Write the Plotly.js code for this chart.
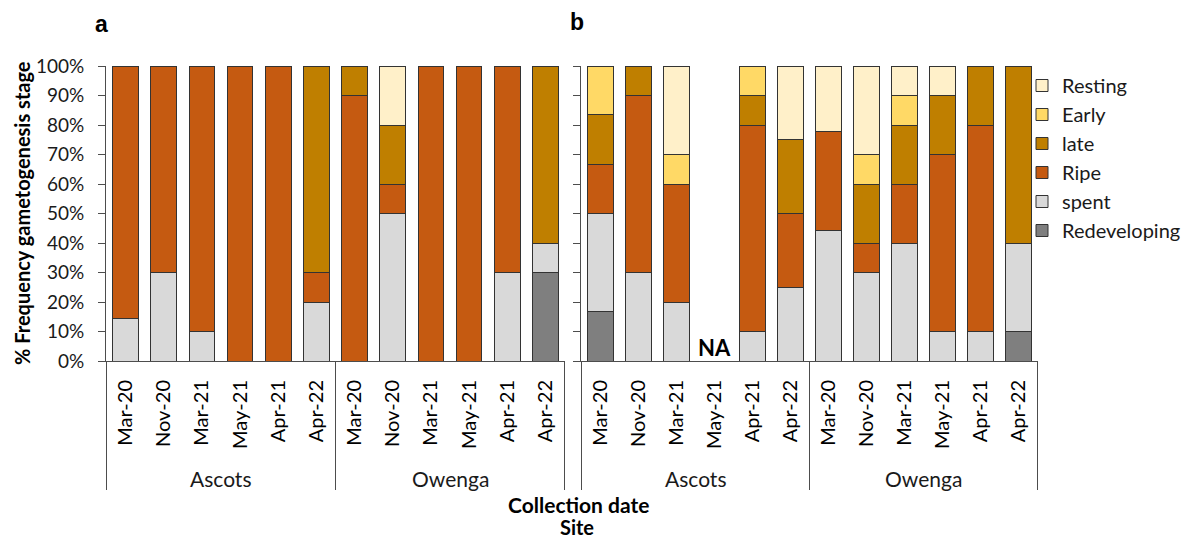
<!DOCTYPE html>
<html>
<head>
<meta charset="utf-8">
<script src="https://cdn.plot.ly/plotly-3.0.1.min.js"></script>
<style>html,body{margin:0;padding:0;background:#fff;}#chart{width:1190px;height:541px;}</style>
</head>
<body>
<div id="chart"></div>
<script>
// Categories
const sites = ["Ascots","Ascots","Ascots","Ascots","Ascots","Ascots","Owenga","Owenga","Owenga","Owenga","Owenga","Owenga"];
const dates = ["Mar-20","Nov-20","Mar-21","May-21","Apr-21","Apr-22","Mar-20","Nov-20","Mar-21","May-21","Apr-21","Apr-22"];
const stages = ["Redeveloping","spent","Ripe","late","Early","Resting"];
const stageColors = ["#7f7f7f","#d9d9d9","#c55a11","#bf7f00","#ffd966","#fff0c9"];

// Panel a (% per stage)
const aRedeveloping = [0,0,0,0,0,0, 0,0,0,0,0,30];
const aSpent        = [14.3,30,10,0,0,20, 0,50,0,0,30,10];
const aRipe         = [85.7,70,90,100,100,10, 90,10,100,100,70,0];
const aLate         = [0,0,0,0,0,70, 10,20,0,0,0,60];
const aEarly        = [0,0,0,0,0,0, 0,0,0,0,0,0];
const aResting      = [0,0,0,0,0,0, 0,20,0,0,0,0];

// Panel b (% per stage); Ascots May-21 = NA
const bRedeveloping = [16.7,0,0,null,0,0, 0,0,0,0,0,10];
const bSpent        = [33.3,30,20,null,10,25, 44.4,30,40,10,10,30];
const bRipe         = [16.7,60,40,null,70,25, 33.3,10,20,60,70,0];
const bLate         = [16.7,10,0,null,10,25, 0,20,20,20,20,60];
const bEarly        = [16.6,0,10,null,10,0, 0,10,10,0,0,0];
const bResting      = [0,0,30,null,0,25, 22.3,30,10,10,0,0];

const catIds = sites.map((s,i)=> s + " " + dates[i]);
const groupNames = ["Ascots","Owenga"];

const FONT = "Lato, 'Open Sans', sans-serif";
const aSeries = [aRedeveloping,aSpent,aRipe,aLate,aEarly,aResting];
const bSeries = [bRedeveloping,bSpent,bRipe,bLate,bEarly,bResting];

const traces = [];
stages.forEach((st,k)=>{
  traces.push({type:"bar", name:st, x:catIds, y:aSeries[k], xaxis:"x", yaxis:"y",
    marker:{color:stageColors[k], line:{color:"#333333", width:1}}, showlegend:false, legendgroup:st, hoverinfo:"name+y"});
});
stages.forEach((st,k)=>{
  traces.push({type:"bar", name:st, x:catIds, y:bSeries[k], xaxis:"x2", yaxis:"y2",
    marker:{color:stageColors[k], line:{color:"#333333", width:1}}, showlegend:true, legendgroup:st, hoverinfo:"name+y"});
});

const W = 1190, H = 541;
const yTop = 66, yBot = 361;
const pY = v => (H - v)/H;
const xa = [106/W, 565/W], xb = [581/W, 1038/W];

const xAxisBase = {
  type:"category", categoryorder:"array", categoryarray:catIds,
  tickmode:"array", tickvals:catIds, ticktext:dates, tickangle:-90,
  tickfont:{family:FONT, size:20, color:"#000"}, ticklabelstandoff:10,
  showline:true, linecolor:"#4d4d4d", linewidth:1, ticks:"", showgrid:false,
  zeroline:false, automargin:false, fixedrange:true
};
const yAxisBase = {
  range:[0,100], dtick:10, tick0:0, ticks:"outside", ticklen:7, tickcolor:"#4d4d4d",
  showline:true, linecolor:"#4d4d4d", linewidth:1, showgrid:false, zeroline:false,
  ticksuffix:"%", tickfont:{family:FONT, size:19, color:"#1a1a1a"}, ticklabelstandoff:10, automargin:false,
  domain:[pY(yBot), pY(yTop)], fixedrange:true
};

const shapes = [];
const annotations = [];
[["x",xa],["x2",xb]].forEach(([ax,dom])=>{
  [-0.5, 5.5, 11.5].forEach(p=>{
    shapes.push({type:"line", xref:ax, yref:"paper", x0:p, x1:p, y0:pY(yBot), y1:pY(490),
      line:{color:"#4d4d4d", width:1}});
  });
  groupNames.forEach((g,i)=>{
    annotations.push({xref:ax, yref:"paper", x:2.5 + 6*i, y:pY(478), text:g, showarrow:false,
      font:{family:FONT, size:21, color:"#1a1a1a"}, xanchor:"center", yanchor:"middle"});
  });
});

annotations.push(
  {xref:"paper", yref:"paper", x:101/W, y:pY(24), text:"<b>a</b>", showarrow:false, font:{family:"Liberation Sans, Arial, sans-serif", size:23, color:"#000"}, xanchor:"center", yanchor:"middle"},
  {xref:"paper", yref:"paper", x:577/W, y:pY(22), text:"<b>b</b>", showarrow:false, font:{family:"Liberation Sans, Arial, sans-serif", size:23, color:"#000"}, xanchor:"center", yanchor:"middle"},
  {xref:"paper", yref:"paper", x:22/W, y:pY(213), text:"<b>% Frequency gametogenesis stage</b>", textangle:-90, showarrow:false, font:{family:FONT, size:20, color:"#000"}, xanchor:"center", yanchor:"middle"},
  {xref:"paper", yref:"paper", x:578/W, y:pY(504), text:"<b>Collection date</b>", showarrow:false, font:{family:FONT, size:21, color:"#000"}, xanchor:"center", yanchor:"middle"},
  {xref:"paper", yref:"paper", x:577/W, y:pY(527), text:"<b>Site</b>", showarrow:false, font:{family:FONT, size:20, color:"#000"}, xanchor:"center", yanchor:"middle"},
  {xref:"x2", yref:"y2", x:catIds[3], y:4.7, text:"<b>NA</b>", showarrow:false, font:{family:FONT, size:22, color:"#000"}, xanchor:"center", yanchor:"middle"}
);

const layout = {
  width:W, height:H, margin:{l:0,r:0,t:0,b:0,autoexpand:false},
  paper_bgcolor:"#fff", plot_bgcolor:"#fff",
  barmode:"stack", bargap:0.33,
  font:{family:FONT, color:"#000"},
  xaxis:Object.assign({}, xAxisBase, {domain:xa, anchor:"y"}),
  xaxis2:Object.assign({}, xAxisBase, {domain:xb, anchor:"y2"}),
  yaxis:Object.assign({}, yAxisBase, {anchor:"x"}),
  yaxis2:Object.assign({}, yAxisBase, {anchor:"x2", showticklabels:false}),
  legend:{x:1022/W, y:pY(66), xanchor:"left", yanchor:"top", traceorder:"reversed",
    font:{family:FONT, size:20, color:"#1a1a1a"}, tracegroupgap:0, itemwidth:30, bgcolor:"rgba(0,0,0,0)"},
  shapes:shapes, annotations:annotations, showlegend:true
};

Plotly.newPlot("chart", traces, layout, {displayModeBar:false, staticPlot:true});
</script>
</body>
</html>
